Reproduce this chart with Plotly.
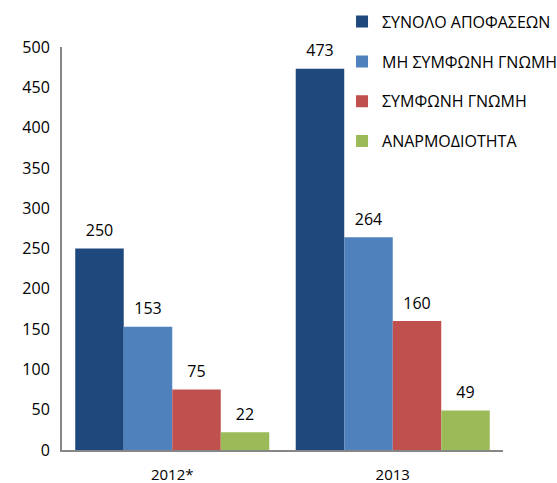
import plotly.graph_objects as go

categories = ["2012*", "2013"]
series_names = ["ΣΥΝΟΛΟ ΑΠΟΦΑΣΕΩΝ", "ΜΗ ΣΥΜΦΩΝΗ ΓΝΩΜΗ", "ΣΥΜΦΩΝΗ ΓΝΩΜΗ", "ΑΝΑΡΜΟΔΙΟΤΗΤΑ"]
synolo = [250, 473]
mh_symfonh = [153, 264]
symfonh = [75, 160]
anarmodiotita = [22, 49]
colors = ["#1F497D", "#4F81BD", "#C0504D", "#9BBB59"]
y_ticks = [0, 50, 100, 150, 200, 250, 300, 350, 400, 450, 500]

FONT = "Open Sans"
FS = 16

fig = go.Figure()
all_vals = [synolo, mh_symfonh, symfonh, anarmodiotita]
for i, (name, vals) in enumerate(zip(series_names, all_vals)):
    fig.add_trace(go.Bar(
        x=categories, y=vals, name=name,
        marker=dict(color=colors[i], line=dict(width=0)),
        legendgroup=str(i), offsetgroup=str(i),
    ))
for i, (name, vals) in enumerate(zip(series_names, all_vals)):
    fig.add_trace(go.Scatter(
        x=categories, y=vals, mode="markers+text",
        marker=dict(size=12, opacity=0),
        text=[str(v) for v in vals], textposition="top center",
        textfont=dict(family=FONT, size=FS, color="#000000"),
        cliponaxis=False, showlegend=False, hoverinfo="skip",
        offsetgroup=str(i),
    ))

fig.update_layout(
    width=557, height=483,
    margin=dict(l=62, r=54, t=47, b=33, autoexpand=False),
    paper_bgcolor="white", plot_bgcolor="white",
    barmode="group", bargap=0.12, bargroupgap=0,
    scattermode="group", scattergap=0.12,
    font=dict(family=FONT, size=FS, color="#000000"),
    showlegend=True,
    legend=dict(x=0.635, y=1.105, xanchor="left", yanchor="top",
                font=dict(family=FONT, size=FS, color="#000000"),
                tracegroupgap=16, itemwidth=30, bgcolor="rgba(0,0,0,0)"),
    xaxis=dict(showline=True, linecolor="#868686", linewidth=2, ticks="",
               showgrid=False, ticklabelstandoff=10, automargin=False,
               tickfont=dict(size=15)),
    yaxis=dict(range=[0, 500], tickvals=y_ticks, showline=True, linecolor="#868686",
               linewidth=2, ticks="outside", ticklen=7, tickcolor="rgba(0,0,0,0)",
               showgrid=False, zeroline=False, automargin=False),
)

fig.write_html(
    "out.html",
    config={"displayModeBar": False},
    post_script="document.body.style.margin='0';document.body.style.overflow='hidden';",
)
